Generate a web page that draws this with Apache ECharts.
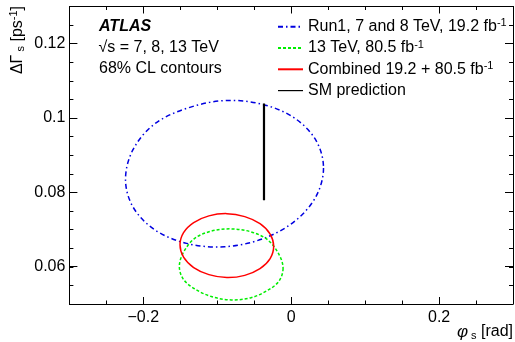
<!DOCTYPE html>
<html><head><meta charset="utf-8">
<script src="https://cdn.jsdelivr.net/npm/echarts@6/dist/echarts.min.js"></script>
<style>html,body{margin:0;padding:0;background:#fff}#c{width:515px;height:342px}</style>
</head><body><div id="c"></div>
<script>
// ---- axis ranges and ticks ----
const xRange = [-0.3, 0.3];
const yRange = [0.05, 0.13];
const xMinorStep = 0.05;
const yMinorStep = 0.005;
const xMajorRange = [-0.2, 0.2];   // labelled ticks: -0.2, 0, 0.2
const xMajorStep = 0.2;
const yMajorRange = [0.06, 0.12];  // labelled ticks: 0.06 ... 0.12
const yMajorStep = 0.02;

// ---- legend ----
const seriesNames = ['Run1, 7 and 8 TeV, 19.2 fb⁻¹', '13 TeV, 80.5 fb⁻¹', 'Combined 19.2 + 80.5 fb⁻¹', 'SM prediction'];
const legendMain = ['Run1, 7 and 8 TeV, 19.2 fb', '13 TeV, 80.5 fb', 'Combined 19.2 + 80.5 fb', 'SM prediction'];
const legendSup = ['-1', '-1', '-1', ''];

// ---- 68% CL contours: [phi_s (rad), DeltaGamma_s (ps^-1)] ----
const run1Contour = [
  [0.0437, 0.0866], [0.0335, 0.0789], [0.0045, 0.0722], [-0.0390, 0.0675],
  [-0.0902, 0.0654], [-0.1415, 0.0663], [-0.1849, 0.0700], [-0.2140, 0.0761],
  [-0.2241, 0.0835], [-0.2140, 0.0915], [-0.1849, 0.0984], [-0.1415, 0.1026],
  [-0.0902, 0.1047], [-0.0390, 0.1037], [0.0045, 0.1000], [0.0335, 0.0940]
];
const run2Contour = [
  [-0.0110, 0.0596], [-0.0164, 0.0562], [-0.0316, 0.0537], [-0.0543, 0.0517],
  [-0.0812, 0.0511], [-0.1080, 0.0520], [-0.1308, 0.0541], [-0.1460, 0.0567],
  [-0.1513, 0.0601], [-0.1460, 0.0638], [-0.1308, 0.0676], [-0.1080, 0.0696],
  [-0.0812, 0.0702], [-0.0543, 0.0694], [-0.0316, 0.0672], [-0.0164, 0.0633]
];
const combinedContour = [
  [-0.0237, 0.0655], [-0.0285, 0.0622], [-0.0422, 0.0595], [-0.0628, 0.0577],
  [-0.0870, 0.0571], [-0.1113, 0.0579], [-0.1319, 0.0598], [-0.1456, 0.0626],
  [-0.1504, 0.0659], [-0.1456, 0.0692], [-0.1319, 0.0719], [-0.1113, 0.0737],
  [-0.0870, 0.0743], [-0.0628, 0.0735], [-0.0422, 0.0716], [-0.0285, 0.0688]
];
const smPrediction = [[-0.0368, 0.0779], [-0.0368, 0.1039]];

const FONT = '"Liberation Sans", Arial, Helvetica, sans-serif';
const colors = ['#0000e0', '#00ee00', '#ff0000', '#000000'];
const dashes = [[5, 3, 1.5, 3], [3, 2], 'solid', 'solid'];
const widths = [1.5, 1.5, 1.5, 2.2];

function fmt(v) {
  if (Math.abs(v) < 1e-12) return '0';
  const s = String(+Math.abs(v).toFixed(4));
  return (v < 0 ? '\u2212' : '') + s;
}
const tickLine = { color: '#000', width: 1 };
const labelStyle = (m) => ({ show: true, formatter: fmt, color: '#000', fontSize: 16, fontFamily: FONT, margin: m });

// grid 0: full frame + minor ticks + data; grid 1: x major ticks; grid 2: y major ticks
const G0 = { left: 69.4, right: 2, top: 6.5, bottom: 38 };
const G1 = { left: 143.3, right: 75.9, top: 6.5, bottom: 38 };
const G2 = { left: 69.4, right: 2, top: 43.7, bottom: 75.3 };

function minorX(pos) {
  return { type: 'value', gridIndex: 0, position: pos, min: xRange[0], max: xRange[1], interval: xMinorStep,
    splitLine: { show: false }, axisLabel: { show: false },
    axisLine: { show: true, onZero: false, lineStyle: tickLine },
    axisTick: { show: true, inside: true, length: 3.5, lineStyle: tickLine } };
}
function minorY(pos) {
  return { type: 'value', gridIndex: 0, position: pos, min: yRange[0], max: yRange[1], interval: yMinorStep,
    splitLine: { show: false }, axisLabel: { show: false },
    axisLine: { show: true, onZero: false, lineStyle: tickLine },
    axisTick: { show: true, inside: true, length: 4, lineStyle: tickLine } };
}
function majorX(pos, labels) {
  return { type: 'value', gridIndex: 1, position: pos, min: xMajorRange[0], max: xMajorRange[1], interval: xMajorStep,
    splitLine: { show: false }, axisLine: { show: false, onZero: false },
    axisTick: { show: true, inside: true, length: 7, lineStyle: tickLine },
    axisLabel: labels ? labelStyle(6) : { show: false } };
}
function majorY(pos, labels) {
  return { type: 'value', gridIndex: 2, position: pos, min: yMajorRange[0], max: yMajorRange[1], interval: yMajorStep,
    splitLine: { show: false }, axisLine: { show: false, onZero: false },
    axisTick: { show: true, inside: true, length: 8, lineStyle: tickLine },
    axisLabel: labels ? labelStyle(4) : { show: false } };
}
const hiddenX = (g) => ({ type: 'value', gridIndex: g, show: false, min: xRange[0], max: xRange[1] });
const hiddenY = (g) => ({ type: 'value', gridIndex: g, show: false, min: yRange[0], max: yRange[1] });

function contourRender(points, idx) {
  return function (params, api) {
    if (params.dataIndex !== 0) return null;
    const pts = points.map(p => api.coord(p));
    return {
      type: 'polygon',
      shape: { points: pts, smooth: 0.34 },
      style: { fill: 'none', stroke: colors[idx], lineWidth: widths[idx], lineDash: dashes[idx] === 'solid' ? null : dashes[idx] }
    };
  };
}

const contours = [run1Contour, run2Contour, combinedContour];
const series = [];
for (let i = 0; i < 3; i++) {
  series.push({
    type: 'line', name: seriesNames[i], data: [], symbol: 'none', xAxisIndex: 0, yAxisIndex: 0,
    lineStyle: { color: colors[i], width: widths[i], type: dashes[i] }, itemStyle: { color: colors[i] }
  });
}
for (let i = 0; i < 3; i++) {
  series.push({
    type: 'custom', name: seriesNames[i], data: contours[i], encode: { x: 0, y: 1 }, xAxisIndex: 0, yAxisIndex: 0,
    renderItem: contourRender(contours[i], i), z: 2 + i, silent: true
  });
}
series.push({
  type: 'line', name: seriesNames[3], data: smPrediction, symbol: 'none', z: 6, xAxisIndex: 0, yAxisIndex: 0,
  lineStyle: { color: colors[3], width: widths[3] }, itemStyle: { color: colors[3] }
});

const chart = echarts.init(document.getElementById('c'), null, { renderer: 'canvas' });
chart.setOption({
  animation: false,
  backgroundColor: '#fff',
  grid: [G0, G1, G2].map(g => Object.assign({ containLabel: false, show: false }, g)),
  xAxis: [
    minorX('bottom'), minorX('top'),
    majorX('bottom', true), majorX('top', false),
    hiddenX(2)
  ],
  yAxis: [
    minorY('left'), minorY('right'),
    hiddenY(1),
    majorY('left', true), majorY('right', false)
  ],
  legend: {
    orient: 'vertical', left: 277, top: 17.7, padding: 0,
    itemWidth: 25, itemHeight: 10, itemGap: 3.3,
    itemStyle: { opacity: 0 },
    data: seriesNames.map((n, i) => i === 3 ? { name: n, lineStyle: { width: 1.2 } } : { name: n }),
    formatter: function (name) {
      const i = seriesNames.indexOf(name);
      return legendMain[i] + (legendSup[i] ? '{sup|' + legendSup[i] + '}' : '');
    },
    textStyle: {
      color: '#000', fontSize: 16, fontFamily: FONT, lineHeight: 18,
      rich: { sup: { fontSize: 11, fontFamily: FONT, color: '#000', verticalAlign: 'top', lineHeight: 11 } }
    }
  },
  graphic: [
    { type: 'text', x: 99, y: 26.5, style: { text: 'ATLAS', font: 'italic bold 16px ' + FONT, fill: '#000', align: 'left', verticalAlign: 'middle', textAlign: 'left', textVerticalAlign: 'middle' } },
    { type: 'text', x: 98.5, y: 47.7, style: { text: '\u221As = 7, 8, 13 TeV', font: '16px ' + FONT, fill: '#000', align: 'left', verticalAlign: 'middle', textAlign: 'left', textVerticalAlign: 'middle' } },
    { type: 'text', x: 99, y: 69, style: { text: '68% CL contours', font: '16px ' + FONT, fill: '#000', align: 'left', verticalAlign: 'middle', textAlign: 'left', textVerticalAlign: 'middle' } },
    { type: 'text', x: 17.5, y: 6, rotation: Math.PI / 2,
      style: {
        text: '{n|\u0394\u0393}{sub| s}{n| [ps}{sup|-1}{n|]}', fill: '#000',
        align: 'right', verticalAlign: 'middle', textAlign: 'right', textVerticalAlign: 'middle',
        rich: {
          n: { fontSize: 16, fontFamily: FONT, lineHeight: 18 },
          sub: { fontSize: 11, fontFamily: FONT, verticalAlign: 'bottom', lineHeight: 11 },
          sup: { fontSize: 11, fontFamily: FONT, verticalAlign: 'top', lineHeight: 11 }
        }
      } },
    { type: 'text', x: 513, y: 332,
      style: {
        text: '{phi|\u03C6}{sub| s}{n| [rad]}', fill: '#000',
        align: 'right', verticalAlign: 'middle', textAlign: 'right', textVerticalAlign: 'middle',
        rich: {
          phi: { fontSize: 17, fontFamily: FONT, fontStyle: 'italic', lineHeight: 18 },
          n: { fontSize: 16, fontFamily: FONT, lineHeight: 18 },
          sub: { fontSize: 11, fontFamily: FONT, verticalAlign: 'bottom', lineHeight: 11 }
        }
      } }
  ],
  series: series
});
</script>
</body></html>
